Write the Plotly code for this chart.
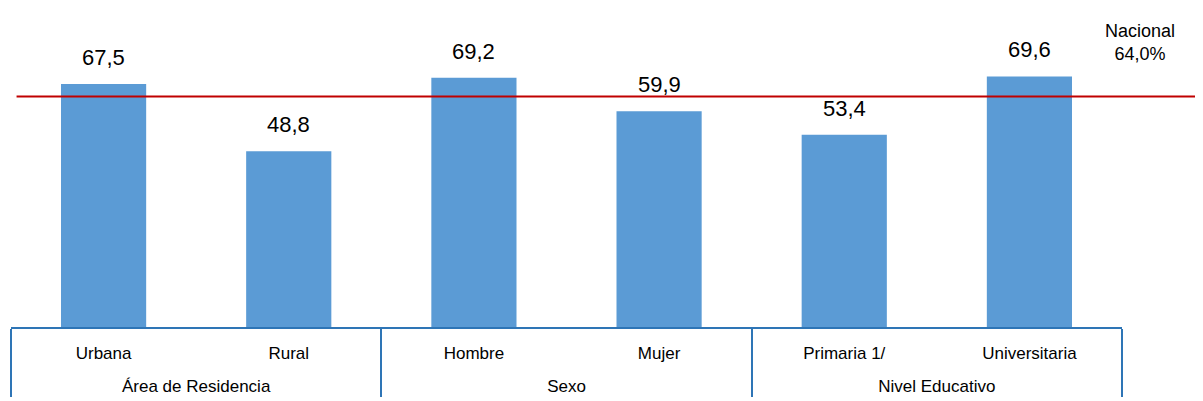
import plotly.graph_objects as go

groups = ["Área de Residencia", "Área de Residencia", "Sexo", "Sexo", "Nivel Educativo", "Nivel Educativo"]
categories = ["Urbana", "Rural", "Hombre", "Mujer", "Primaria 1/", "Universitaria"]
values = [67.5, 48.8, 69.2, 59.9, 53.4, 69.6]
national = 64.0
national_label = "Nacional"

bar_color = "#5B9BD5"
line_color = "#C00000"
box_color = "#2E75B6"
label_font = "Liberation Sans, Arial"

fig = go.Figure()
fig.add_trace(go.Bar(
    x=[groups, [c + "<br> " for c in categories]],
    y=values,
    marker=dict(color=bar_color, line=dict(width=0)),
    width=0.46,
    hoverinfo="skip",
))

for g, c, v in zip(groups, categories, values):
    fig.add_annotation(
        x=[g, c + "<br> "], y=v, xref="x", yref="y",
        text=f"{v:.1f}".replace(".", ","),
        showarrow=False, yanchor="bottom", yshift=12,
        font=dict(family=label_font, size=22, color="#000000"),
    )

fig.add_shape(
    type="line", xref="paper", yref="y",
    x0=0.005, x1=1.09, y0=national, y1=national,
    line=dict(color=line_color, width=2),
)
fig.add_annotation(
    xref="paper", yref="y", x=1.016, y=national,
    text=f"{national_label}<br>{national:.1f}%".replace(".", ","),
    showarrow=False, xanchor="center", yanchor="bottom", yshift=31,
    font=dict(family=label_font, size=18, color="#000000"),
    align="center",
)

fig.update_layout(
    width=1203, height=401,
    margin=dict(l=3, r=89, t=0, b=82),
    paper_bgcolor="white", plot_bgcolor="white",
    showlegend=False,
)
fig.update_xaxes(
    type="multicategory",
    range=[-0.5, 5.5],
    showline=True, linecolor=box_color, linewidth=1.5,
    showdividers=True, dividercolor=box_color, dividerwidth=1.5,
    ticks="",
    ticklabelstandoff=10,
    tickfont=dict(family=label_font, size=17, color="#000000"),
    showgrid=False,
)
fig.update_yaxes(
    range=[0, 88.6], visible=False, showgrid=False, zeroline=False,
)

fig.write_html("out.html")
